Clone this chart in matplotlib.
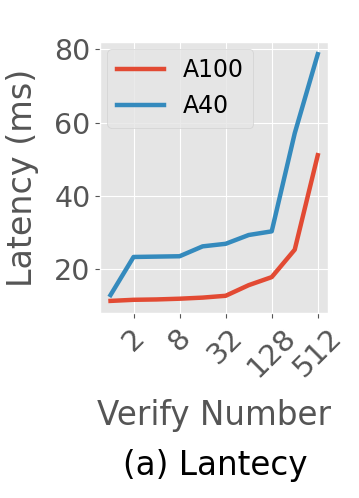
import matplotlib
matplotlib.use("Agg")
import matplotlib.pyplot as plt

plt.style.use("ggplot")

verify_number = [1, 2, 4, 8, 16, 32, 64, 128, 256, 512]
a100 = [11.3, 11.6, 11.7, 11.9, 12.2, 12.7, 15.6, 17.8, 25.3, 51.1]
a40 = [12.9, 23.3, 23.4, 23.5, 26.2, 26.9, 29.3, 30.3, 57.1, 78.7]
xticks = [2, 8, 32, 128, 512]
yticks = [20, 40, 60, 80]

fig = plt.figure(figsize=(3.59, 4.98), dpi=100)
ax = fig.add_axes([0.279, 0.371, 0.635, 0.545])

ax.plot(verify_number, a100, color="#E24A33", lw=3.2, label="A100")
ax.plot(verify_number, a40, color="#348ABD", lw=3.2, label="A40")
ax.set_xscale("log", base=2)
ax.set_xticks(xticks)
ax.set_xticklabels([str(v) for v in xticks], rotation=45, fontsize=21)
ax.minorticks_off()
ax.set_yticks(yticks)
ax.tick_params(axis="y", labelsize=20.5)
ax.set_xlabel("Verify Number", fontsize=23.5, color="#555555", va="baseline")
ax.xaxis.set_label_coords(0.5, -0.41)
ax.set_ylabel("Latency (ms)", fontsize=24, color="#555555", va="center")
ax.yaxis.set_label_coords(-0.342, 0.5)
ax.legend(loc="upper left", fontsize=17, handlelength=2.0, borderaxespad=0.3)

fig.text(0.6, 0.046, "(a) Lantecy", ha="center", va="baseline", fontsize=23.5, color="black")

fig.savefig("out.png", dpi=100)
